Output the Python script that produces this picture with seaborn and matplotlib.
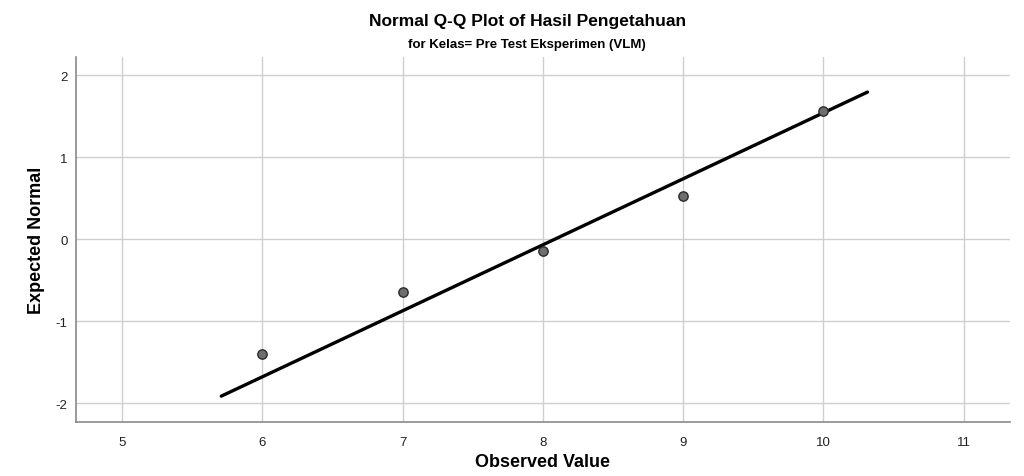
import numpy as np
import matplotlib.pyplot as plt
import seaborn as sns

observed = [6, 7, 8, 9, 10]
expected = [-1.40, -0.65, -0.15, 0.52, 1.56]

# reference line: y = (x - mean) / sd
mean_val = 8.086
sd_val = 1.243
line_x = np.array([5.706, 10.314])
line_y = (line_x - mean_val) / sd_val

x_ticks = [5, 6, 7, 8, 9, 10, 11]
y_ticks = [-2, -1, 0, 1, 2]

sns.set_style('white')
plt.rcParams['font.family'] = ['Liberation Sans', 'DejaVu Sans']
plt.rcParams['axes.unicode_minus'] = False
plt.rcParams['text.color'] = 'black'
plt.rcParams['axes.labelcolor'] = 'black'

fig = plt.figure(figsize=(10.24, 4.77), dpi=100)
ax = fig.add_axes([0.0742, 0.1132, 0.9121, 0.7652])

sns.lineplot(x=line_x, y=line_y, ax=ax, color='black', linewidth=2.4, zorder=3)
sns.scatterplot(x=observed, y=expected, ax=ax, s=45, color='#6e6e6e',
                edgecolor='#2a2a2a', linewidth=1.0, zorder=4)

ax.set_xlim(4.67, 11.33)
ax.set_ylim(-2.23, 2.22)
ax.set_xticks(x_ticks)
ax.set_yticks(y_ticks)
ax.grid(True, color='#cfcfcf', linewidth=1.0)
ax.set_axisbelow(True)
ax.tick_params(length=0, labelsize=9.5, colors='#222222')
ax.tick_params(axis='x', pad=10)
ax.tick_params(axis='y', pad=6)
for side in ['top', 'right']:
    ax.spines[side].set_visible(False)
for side in ['left', 'bottom']:
    ax.spines[side].set_color('#8a8a8a')
    ax.spines[side].set_linewidth(1.2)

ax.set_xlabel('Observed Value', fontsize=13, fontweight='bold', labelpad=4)
ax.set_ylabel('Expected Normal', fontsize=13, fontweight='bold', labelpad=8)

fig.text(0.515, 0.955, 'Normal Q-Q Plot of Hasil Pengetahuan', ha='center', va='center',
         fontsize=12.5, fontweight='bold')
fig.text(0.515, 0.905, 'for Kelas= Pre Test Eksperimen (VLM)', ha='center', va='center',
         fontsize=9.5, fontweight='bold')

plt.savefig('out.png', dpi=100)
